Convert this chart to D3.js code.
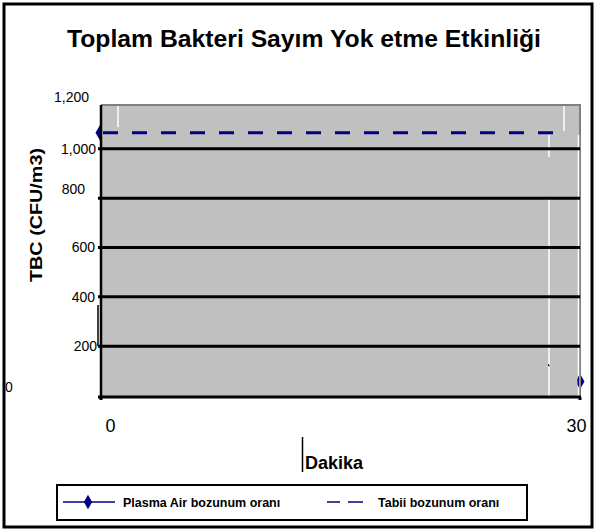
<!DOCTYPE html>
<html lang="tr">
<head>
<meta charset="utf-8">
<title>Toplam Bakteri Sayım</title>
<script src="https://d3js.org/d3.v7.min.js"></script>
<style type="text/css">
  body { margin: 0; background: #fff; }
  svg { font-family: Arial, "Liberation Sans", sans-serif; }
</style>
</head>
<body>
<script>
// data
var minutes = [0, 30];
var plasmaValues = [1063, 55];      // Plasma Air bozunum oranı
var tabiiValues = [1063, 1063];     // Tabii bozunum oranı
var yTicks = [0, 200, 400, 600, 800, 1000, 1200];
var gridTicks = [200, 400, 600, 800, 1000];
var xTicks = [0, 30];
var seriesNames = ["Plasma Air bozunum oranı", "Tabii bozunum oranı"];

// configuration
var width = 596, height = 531;
var plot = { left: 101, top: 105, right: 580, bottom: 397 };
var navy = "#000080";

var svg = d3.select("body").append("svg")
    .attr("width", width)
    .attr("height", height);

// outer frame
svg.append("rect")
    .attr("x", 4).attr("y", 4)
    .attr("width", 588).attr("height", 523)
    .attr("fill", "#fff")
    .attr("stroke", "#000")
    .attr("stroke-width", 3);

svg.append("text")
    .attr("x", 67).attr("y", 47)
    .attr("font-size", 23).attr("font-weight", "bold")
    .attr("textLength", 474).attr("lengthAdjust", "spacingAndGlyphs")
    .text("Toplam Bakteri Sayım Yok etme Etkinliği");

var xScale = d3.scaleLinear().domain([0, 30]).range([100, 580]);
var yScale = d3.scaleLinear().domain([0, 1200]).range([395, 99]);

var line = d3.line()
    .x(function (d, i) { return xScale(minutes[i]); })
    .y(function (d) { return yScale(d); });

// gaps in the grey plot area (the series below shows through them)
var gaps = [
    { x: 118, y0: 106, y1: 127 },
    { x: 564, y0: 106, y1: 131 },
    { x: 549, y0: 135, y1: 157 },
    { x: 549, y0: 198, y1: 396 },
    { x: 578.5, y0: 135, y1: 396 }
];

var defs = svg.append("defs");
var clip = defs.append("clipPath").attr("id", "showThrough");
clip.append("rect").attr("x", 0).attr("y", 0).attr("width", plot.left + 1).attr("height", height);
clip.append("rect").attr("x", plot.right + 1).attr("y", 0).attr("width", 20).attr("height", height);
gaps.forEach(function (g) {
    clip.append("rect").attr("x", g.x - 1).attr("y", g.y0).attr("width", 1.5).attr("height", g.y1 - g.y0);
});
defs.append("clipPath").attr("id", "dashClip")
    .append("rect").attr("x", 0).attr("y", 0).attr("width", 565).attr("height", height);

// grey plot area
svg.append("rect")
    .attr("x", plot.left).attr("y", plot.top)
    .attr("width", plot.right - plot.left).attr("height", plot.bottom - plot.top)
    .attr("fill", "#c0c0c0");
svg.append("path")
    .attr("d", "M" + plot.left + "," + plot.top + "H" + plot.right + "V" + plot.bottom)
    .attr("fill", "none").attr("stroke", "#808080").attr("stroke-width", 2);

gaps.forEach(function (g) {
    svg.append("line")
        .attr("x1", g.x).attr("x2", g.x)
        .attr("y1", g.y0).attr("y2", g.y1)
        .attr("stroke", "#fff").attr("stroke-width", 1.5);
});

// Plasma Air series, mostly hidden under the plot area
var plasma = svg.append("g").attr("clip-path", "url(#showThrough)");
plasma.append("path")
    .datum(plasmaValues)
    .attr("d", line)
    .attr("fill", "none").attr("stroke", navy).attr("stroke-width", 1.5);
plasma.selectAll("path.marker").data(plasmaValues).enter().append("path")
    .attr("class", "marker")
    .attr("d", d3.symbol().type(d3.symbolDiamond).size(70))
    .attr("transform", function (d, i) {
        return "translate(" + xScale(minutes[i]) + "," + yScale(d) + ")";
    })
    .attr("fill", navy);

// y axis with gridlines
var labelNudge = { 1200: [-7, -2], 1000: [0, 1], 800: [-11, -9], 600: [-1, 0], 400: [-1, 1], 200: [1, 0] };
var yAxis = d3.axisLeft(yScale)
    .tickValues(yTicks)
    .tickSize(-482)
    .tickPadding(2)
    .tickFormat(d3.format(","));
var yg = svg.append("g")
    .attr("transform", "translate(98,0)")
    .call(yAxis);
yg.select(".domain").remove();
yg.selectAll(".tick line")
    .attr("stroke", "#000").attr("stroke-width", 3)
    .attr("display", function (d) { return gridTicks.indexOf(d) >= 0 ? null : "none"; });
yg.selectAll(".tick text")
    .attr("font-size", 14).attr("fill", "#000")
    .attr("font-family", "Arial, 'Liberation Sans', sans-serif")
    .each(function (d) {
        var t = d3.select(this);
        if (d === 0) {
            t.attr("text-anchor", "start").attr("x", 5 - 98).attr("dy", "0.32em").attr("y", -8);
        } else {
            var n = labelNudge[d];
            t.attr("dx", n[0]).attr("y", n[1]);
        }
    });

// left axis line and bottom axis line
svg.append("line")
    .attr("x1", plot.left).attr("x2", plot.left)
    .attr("y1", plot.top).attr("y2", plot.bottom + 2)
    .attr("stroke", "#000").attr("stroke-width", 2.5);
svg.append("line")
    .attr("x1", 98).attr("x2", 98)
    .attr("y1", 305).attr("y2", 346)
    .attr("stroke", "#000").attr("stroke-width", 1.5);

var xAxis = d3.axisBottom(xScale).tickValues(xTicks).tickSize(0).tickPadding(0);
var xg = svg.append("g")
    .attr("transform", "translate(0," + plot.bottom + ")")
    .call(xAxis);
xg.select(".domain")
    .attr("d", "M98,0H" + (plot.right + 1) + "M101,0V3M" + plot.right + ",0V3")
    .attr("stroke", "#000").attr("stroke-width", 3);
xg.selectAll(".tick text")
    .attr("font-size", 18).attr("fill", "#000")
    .attr("font-family", "Arial, 'Liberation Sans', sans-serif")
    .attr("y", 22)
    .attr("dx", function (d) { return d === 0 ? 10 : -4; });

// Tabii series, dashed on top
svg.append("path")
    .datum(tabiiValues)
    .attr("d", line)
    .attr("clip-path", "url(#dashClip)")
    .attr("fill", "none")
    .attr("stroke", navy).attr("stroke-width", 3)
    .attr("stroke-dasharray", "0,3,15,11");

// axis titles
svg.append("text")
    .attr("transform", "translate(42,215) rotate(-90)")
    .attr("text-anchor", "middle")
    .attr("font-size", 16).attr("font-weight", "bold")
    .attr("textLength", 134).attr("lengthAdjust", "spacingAndGlyphs")
    .text("TBC (CFU/m3)");

svg.append("line")
    .attr("x1", 302.5).attr("x2", 302.5)
    .attr("y1", 437).attr("y2", 472)
    .attr("stroke", "#000").attr("stroke-width", 1.5);
svg.append("text")
    .attr("x", 305).attr("y", 469)
    .attr("font-size", 18).attr("font-weight", "bold")
    .text("Dakika");

// legend
var legend = svg.append("g");
legend.append("rect")
    .attr("x", 57).attr("y", 485)
    .attr("width", 470).attr("height", 35)
    .attr("fill", "#fff")
    .attr("stroke", "#000").attr("stroke-width", 2);

legend.append("line")
    .attr("x1", 63).attr("x2", 115).attr("y1", 502).attr("y2", 502)
    .attr("stroke", navy).attr("stroke-width", 1.5);
legend.append("path")
    .attr("d", d3.symbol().type(d3.symbolDiamond).size(60))
    .attr("transform", "translate(88,502)")
    .attr("fill", navy);
legend.append("text")
    .attr("x", 123).attr("y", 506.5)
    .attr("font-size", 12.5).attr("font-weight", "bold")
    .text(seriesNames[0]);

legend.append("line")
    .attr("x1", 327).attr("x2", 363).attr("y1", 502).attr("y2", 502)
    .attr("stroke", navy).attr("stroke-width", 1.5)
    .attr("stroke-dasharray", "13,8,15");
legend.append("text")
    .attr("x", 378).attr("y", 506.5)
    .attr("font-size", 12.5).attr("font-weight", "bold")
    .text(seriesNames[1]);
</script>
</body>
</html>
